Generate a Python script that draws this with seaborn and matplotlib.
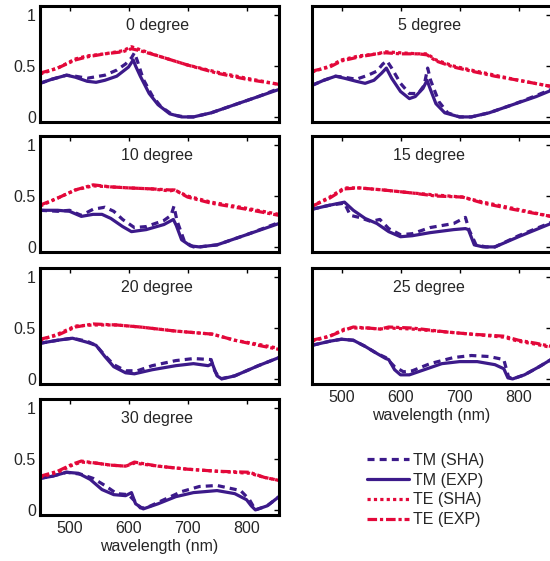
import matplotlib
matplotlib.use("Agg")
import matplotlib.pyplot as plt
from matplotlib.lines import Line2D
import seaborn as sns

# ---- reflectance spectra, one block per incidence angle ----
angles = [0, 5, 10, 15, 20, 25, 30]

deg0_te_wl = [450, 480, 510, 530, 560, 590, 605, 620, 650, 700, 750, 800, 855]
deg0_te_exp = [0.43, 0.48, 0.56, 0.59, 0.62, 0.64, 0.67, 0.65, 0.60, 0.51, 0.43, 0.37, 0.32]
deg0_te_sha = [0.42, 0.48, 0.57, 0.60, 0.62, 0.65, 0.69, 0.66, 0.60, 0.51, 0.44, 0.38, 0.32]
deg0_tm_exp_wl = [450, 470, 495, 510, 530, 545, 560, 580, 600, 608, 612, 620, 635, 650, 670, 690, 710, 740, 780, 820, 855]
deg0_tm_exp = [0.33, 0.37, 0.41, 0.39, 0.35, 0.34, 0.36, 0.40, 0.49, 0.56, 0.50, 0.40, 0.23, 0.12, 0.03, 0.0, 0.0, 0.04, 0.12, 0.20, 0.27]
deg0_tm_sha_wl = [450, 470, 495, 510, 530, 560, 580, 595, 605, 610, 615, 625, 640, 655, 675, 695, 710, 740, 780, 820, 855]
deg0_tm_sha = [0.33, 0.37, 0.41, 0.40, 0.38, 0.41, 0.46, 0.52, 0.58, 0.63, 0.55, 0.37, 0.21, 0.10, 0.02, 0.0, 0.0, 0.04, 0.12, 0.20, 0.28]

deg5_te_wl = [450, 480, 500, 530, 560, 575, 600, 630, 645, 660, 690, 720, 760, 800, 855]
deg5_te_exp = [0.45, 0.49, 0.55, 0.59, 0.62, 0.63, 0.62, 0.62, 0.61, 0.55, 0.49, 0.45, 0.40, 0.36, 0.30]
deg5_te_sha = [0.44, 0.50, 0.56, 0.60, 0.62, 0.64, 0.63, 0.62, 0.62, 0.56, 0.50, 0.46, 0.41, 0.36, 0.30]
deg5_tm_exp_wl = [450, 470, 490, 505, 525, 540, 555, 568, 576, 585, 600, 615, 625, 638, 645, 650, 660, 675, 700, 720, 750, 790, 830, 855]
deg5_tm_exp = [0.31, 0.36, 0.40, 0.38, 0.35, 0.33, 0.36, 0.43, 0.48, 0.38, 0.25, 0.18, 0.20, 0.28, 0.36, 0.28, 0.13, 0.04, 0.0, 0.0, 0.04, 0.12, 0.20, 0.26]
deg5_tm_sha_wl = [450, 470, 490, 505, 525, 545, 560, 570, 577, 585, 600, 615, 630, 640, 646, 651, 665, 680, 700, 720, 750, 790, 830, 855]
deg5_tm_sha = [0.31, 0.36, 0.40, 0.39, 0.37, 0.41, 0.45, 0.52, 0.55, 0.48, 0.33, 0.23, 0.23, 0.31, 0.48, 0.36, 0.15, 0.04, 0.0, 0.0, 0.04, 0.12, 0.21, 0.27]

deg10_te_wl = [450, 480, 510, 540, 570, 600, 640, 670, 678, 700, 740, 800, 855]
deg10_te_exp = [0.41, 0.48, 0.56, 0.61, 0.59, 0.58, 0.57, 0.56, 0.56, 0.49, 0.43, 0.37, 0.31]
deg10_te_sha = [0.40, 0.48, 0.56, 0.60, 0.59, 0.58, 0.57, 0.55, 0.56, 0.50, 0.44, 0.38, 0.32]
deg10_tm_exp_wl = [450, 480, 500, 520, 540, 555, 570, 590, 605, 630, 660, 676, 681, 690, 705, 720, 750, 800, 855]
deg10_tm_exp = [0.36, 0.36, 0.35, 0.30, 0.32, 0.32, 0.28, 0.20, 0.15, 0.17, 0.22, 0.27, 0.21, 0.07, 0.01, 0.0, 0.02, 0.12, 0.23]
deg10_tm_sha_wl = [450, 480, 500, 520, 540, 560, 575, 590, 610, 630, 660, 672, 677, 682, 695, 710, 720, 750, 800, 855]
deg10_tm_sha = [0.36, 0.35, 0.36, 0.31, 0.37, 0.39, 0.35, 0.27, 0.19, 0.20, 0.26, 0.31, 0.40, 0.26, 0.05, 0.0, 0.0, 0.02, 0.12, 0.24]

deg15_te_wl = [450, 480, 505, 530, 570, 620, 660, 705, 740, 790, 855]
deg15_te_exp = [0.40, 0.48, 0.57, 0.58, 0.56, 0.53, 0.50, 0.49, 0.43, 0.37, 0.30]
deg15_te_sha = [0.40, 0.49, 0.58, 0.58, 0.56, 0.53, 0.51, 0.49, 0.44, 0.38, 0.30]
deg15_tm_exp_wl = [450, 480, 505, 520, 540, 560, 580, 600, 620, 650, 690, 710, 715, 725, 740, 760, 800, 855]
deg15_tm_exp = [0.37, 0.41, 0.44, 0.36, 0.28, 0.23, 0.15, 0.10, 0.11, 0.14, 0.17, 0.18, 0.17, 0.02, 0.0, 0.0, 0.10, 0.23]
deg15_tm_sha_wl = [450, 480, 505, 515, 530, 550, 565, 580, 600, 620, 650, 690, 710, 716, 728, 745, 760, 800, 855]
deg15_tm_sha = [0.37, 0.41, 0.43, 0.31, 0.29, 0.25, 0.27, 0.18, 0.12, 0.13, 0.19, 0.23, 0.29, 0.17, 0.02, 0.0, 0.0, 0.11, 0.24]

deg20_te_wl = [450, 480, 510, 540, 580, 620, 680, 742, 780, 820, 855]
deg20_te_exp = [0.39, 0.43, 0.51, 0.54, 0.53, 0.51, 0.47, 0.44, 0.38, 0.33, 0.29]
deg20_te_sha = [0.38, 0.44, 0.52, 0.53, 0.53, 0.51, 0.47, 0.44, 0.38, 0.34, 0.30]
deg20_tm_exp_wl = [450, 480, 505, 530, 545, 560, 575, 595, 610, 640, 680, 710, 735, 742, 750, 758, 780, 820, 855]
deg20_tm_exp = [0.35, 0.38, 0.40, 0.36, 0.33, 0.22, 0.12, 0.06, 0.05, 0.09, 0.13, 0.15, 0.13, 0.15, 0.03, 0.0, 0.03, 0.13, 0.21]
deg20_tm_sha_wl = [450, 480, 505, 530, 545, 560, 575, 595, 615, 640, 680, 710, 740, 746, 755, 780, 820, 855]
deg20_tm_sha = [0.35, 0.38, 0.40, 0.37, 0.33, 0.23, 0.14, 0.08, 0.08, 0.13, 0.18, 0.20, 0.19, 0.08, 0.0, 0.03, 0.13, 0.21]

deg25_te_wl = [450, 480, 505, 520, 545, 565, 580, 620, 680, 720, 775, 800, 830, 855]
deg25_te_exp = [0.38, 0.42, 0.48, 0.51, 0.50, 0.49, 0.51, 0.50, 0.46, 0.44, 0.42, 0.38, 0.35, 0.32]
deg25_te_sha = [0.37, 0.42, 0.49, 0.50, 0.50, 0.49, 0.50, 0.49, 0.46, 0.44, 0.41, 0.37, 0.34, 0.31]
deg25_tm_exp_wl = [450, 480, 500, 520, 540, 560, 575, 580, 590, 600, 615, 640, 670, 700, 730, 760, 775, 782, 790, 810, 835, 855]
deg25_tm_exp = [0.33, 0.37, 0.39, 0.38, 0.32, 0.25, 0.20, 0.19, 0.09, 0.04, 0.04, 0.09, 0.15, 0.17, 0.17, 0.14, 0.10, 0.01, 0.0, 0.04, 0.12, 0.19]
deg25_tm_sha_wl = [450, 480, 500, 520, 540, 560, 575, 590, 605, 620, 650, 690, 720, 750, 775, 783, 790, 810, 835, 855]
deg25_tm_sha = [0.33, 0.37, 0.39, 0.38, 0.32, 0.25, 0.21, 0.12, 0.07, 0.08, 0.15, 0.21, 0.23, 0.22, 0.19, 0.02, 0.0, 0.04, 0.12, 0.19]

deg30_te_wl = [450, 480, 505, 520, 545, 570, 595, 610, 650, 700, 750, 805, 830, 855]
deg30_te_exp = [0.33, 0.38, 0.45, 0.48, 0.46, 0.44, 0.43, 0.47, 0.43, 0.40, 0.38, 0.37, 0.32, 0.29]
deg30_te_sha = [0.32, 0.37, 0.44, 0.47, 0.46, 0.44, 0.43, 0.46, 0.43, 0.40, 0.38, 0.36, 0.32, 0.29]
deg30_tm_exp_wl = [450, 470, 495, 515, 535, 555, 575, 595, 605, 612, 625, 650, 680, 710, 750, 780, 800, 808, 815, 835, 855]
deg30_tm_exp = [0.31, 0.33, 0.37, 0.36, 0.30, 0.20, 0.15, 0.14, 0.17, 0.06, 0.01, 0.06, 0.13, 0.17, 0.19, 0.16, 0.10, 0.04, 0.0, 0.04, 0.13]
deg30_tm_sha_wl = [450, 470, 495, 520, 540, 560, 580, 600, 610, 620, 630, 660, 690, 720, 750, 790, 805, 815, 835, 855]
deg30_tm_sha = [0.31, 0.33, 0.37, 0.35, 0.31, 0.24, 0.16, 0.15, 0.09, 0.02, 0.02, 0.10, 0.18, 0.23, 0.24, 0.19, 0.10, 0.0, 0.04, 0.13]

panels = [
    (deg0_te_wl, deg0_te_exp, deg0_te_sha, deg0_tm_exp_wl, deg0_tm_exp, deg0_tm_sha_wl, deg0_tm_sha),
    (deg5_te_wl, deg5_te_exp, deg5_te_sha, deg5_tm_exp_wl, deg5_tm_exp, deg5_tm_sha_wl, deg5_tm_sha),
    (deg10_te_wl, deg10_te_exp, deg10_te_sha, deg10_tm_exp_wl, deg10_tm_exp, deg10_tm_sha_wl, deg10_tm_sha),
    (deg15_te_wl, deg15_te_exp, deg15_te_sha, deg15_tm_exp_wl, deg15_tm_exp, deg15_tm_sha_wl, deg15_tm_sha),
    (deg20_te_wl, deg20_te_exp, deg20_te_sha, deg20_tm_exp_wl, deg20_tm_exp, deg20_tm_sha_wl, deg20_tm_sha),
    (deg25_te_wl, deg25_te_exp, deg25_te_sha, deg25_tm_exp_wl, deg25_tm_exp, deg25_tm_sha_wl, deg25_tm_sha),
    (deg30_te_wl, deg30_te_exp, deg30_te_sha, deg30_tm_exp_wl, deg30_tm_exp, deg30_tm_sha_wl, deg30_tm_sha),
]

x_ticks = [500, 600, 700, 800]
y_ticks = [0, 0.5, 1]
y_tick_labels = ["0", "0.5", "1"]
legend_labels = ["TM (SHA)", "TM (EXP)", "TE (SHA)", "TE (EXP)"]

# ---- styling ----
sns.set_theme(style="white")
plt.rcParams["font.family"] = ["Liberation Sans", "DejaVu Sans"]
FS = 11.5
plt.rcParams["font.size"] = FS

TM_COLOR = "#3c1a8a"
TE_COLOR = "#e3083a"
TEXT_COLOR = "#262626"
LW = 2.3

styles = {
    "TM (SHA)": dict(color=TM_COLOR, dashes=(2.2, 1.6)),
    "TM (EXP)": dict(color=TM_COLOR, dashes=()),
    "TE (SHA)": dict(color=TE_COLOR, dashes=(1.0, 1.0)),
    "TE (EXP)": dict(color=TE_COLOR, dashes=(3.0, 0.9, 1.0, 0.9)),
}

fig = plt.figure(figsize=(5.5, 5.61), dpi=100)
W, H = 550.0, 561.0
col_left = [40, 312]
row_top = [6, 136, 268, 399]
ax_w, ax_h = 239, 116


def line(ax, x, y, key):
    st = styles[key]
    sns.lineplot(x=x, y=y, ax=ax, color=st["color"], linewidth=LW,
                 estimator=None, sort=False)
    ln = ax.lines[-1]
    if st["dashes"]:
        ln.set_dashes(st["dashes"])
    else:
        ln.set_linestyle("-")


for i, ang in enumerate(angles):
    r, c = divmod(i, 2)
    l = col_left[c] / W
    b = 1 - (row_top[r] + ax_h) / H
    ax = fig.add_axes([l, b, ax_w / W, ax_h / H])
    te_wl, te_exp, te_sha, tmx_wl, tm_exp, tms_wl, tm_sha = panels[i]
    line(ax, tms_wl, tm_sha, "TM (SHA)")
    line(ax, tmx_wl, tm_exp, "TM (EXP)")
    line(ax, te_wl, te_sha, "TE (SHA)")
    line(ax, te_wl, te_exp, "TE (EXP)")

    ax.set_xlim(450, 855)
    ax.set_ylim(-0.05, 1.09)
    ax.set_xticks(x_ticks)
    ax.set_yticks(y_ticks)
    ax.tick_params(direction="in", length=3.5, width=1.0, top=True, right=True,
                   colors="black", labelcolor=TEXT_COLOR, labelsize=FS)
    ax.tick_params(axis="x", pad=4.5)
    ax.tick_params(axis="y", pad=3)
    for sp in ax.spines.values():
        sp.set_linewidth(2.2)
        sp.set_color("black")
        sp.set_visible(True)

    if c == 0:
        ax.set_yticklabels(y_tick_labels)
    else:
        ax.set_yticklabels([])
    bottom_of_col = (c == 0 and r == 3) or (c == 1 and r == 2)
    if bottom_of_col:
        ax.set_xticklabels([str(t) for t in x_ticks])
        ax.set_xlabel("wavelength (nm)", fontsize=FS, color=TEXT_COLOR, labelpad=2)
    else:
        ax.set_xticklabels([])
    ax.set_ylabel("")
    ax.text(0.49, 0.836, f"{ang} degree", transform=ax.transAxes,
            ha="center", va="center", fontsize=FS, color=TEXT_COLOR)

handles = []
for key in legend_labels:
    st = styles[key]
    h = Line2D([], [], color=st["color"], linewidth=LW)
    if st["dashes"]:
        h.set_dashes(st["dashes"])
    handles.append(h)

fig.legend(handles, legend_labels, loc="center left",
           bbox_to_anchor=(367 / W, 1 - 490 / H), frameon=False,
           fontsize=FS, handlelength=2.6, handletextpad=0.3,
           labelspacing=0.3, borderpad=0, borderaxespad=0,
           labelcolor=TEXT_COLOR)

fig.savefig("out.png", dpi=100)
